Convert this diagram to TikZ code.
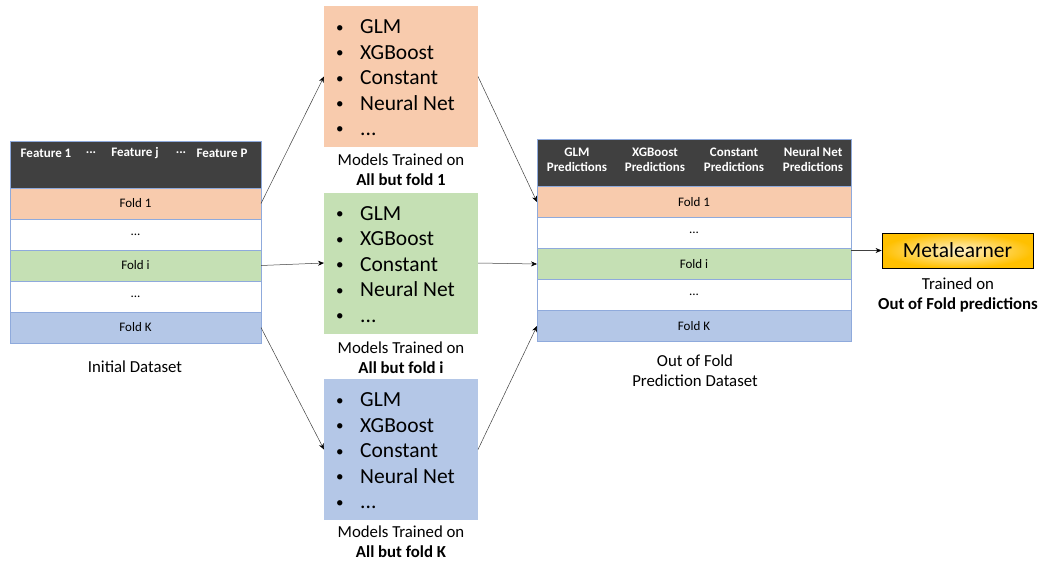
\documentclass[tikz,border=0pt]{standalone}
\usepackage{fontspec}
\usepackage{graphicx}
\setmainfont{Carlito}
\usetikzlibrary{arrows.meta}
\definecolor{foldorange}{HTML}{F8CBAD}
\definecolor{foldgreen}{HTML}{C5E0B4}
\definecolor{foldblue}{HTML}{B4C7E7}
\definecolor{hdrgray}{HTML}{404040}
\definecolor{tableline}{HTML}{8FAADC}
\definecolor{gold}{HTML}{FFC000}
\definecolor{paleyellow}{HTML}{FFF2CC}
\definecolor{arrgray}{HTML}{404040}
\begin{document}
\begin{tikzpicture}[x=1pt,y=-1pt,
  cell/.style={draw=tableline, line width=0.6pt, inner sep=0pt, outer sep=0pt,
    font=\fontsize{13}{15}\selectfont},
  lrow/.style={cell, minimum width=251pt, minimum height=31pt},
  rrow/.style={cell, minimum width=314pt, minimum height=31pt},
  hdr/.style={draw=tableline, line width=0.6pt, fill=hdrgray, inner sep=0pt, outer sep=0pt},
  hdrtext/.style={text=white, font=\fontsize{13}{15}\bfseries\selectfont, align=center, inner sep=0pt},
  modelbox/.style={inner sep=0pt, outer sep=0pt, minimum width=154pt, minimum height=141pt},
  modellist/.style={anchor=base west, inner sep=0pt, font=\fontsize{21.5}{25.5}\selectfont},
  caption/.style={align=center, inner sep=0pt, font=\fontsize{16.8}{20}\selectfont},
  arr/.style={draw=arrgray, line width=0.5pt, -{Stealth[length=6pt,width=5pt,color=black]}}
]
\useasboundingbox (0,0) rectangle (1038,562);

% ---------- initial dataset ----------
\node[hdr, minimum width=251pt, minimum height=47pt] (LH) at (135.5,164.5) {};
\node[hdrtext] at (46,153) {Feature 1};
\node[hdrtext] at (91,153) {...};
\node[hdrtext] at (135,153) {Feature j};
\node[hdrtext] at (181,153) {...};
\node[hdrtext] at (222,153) {Feature P};
\node[lrow, fill=foldorange] (L1) at (135.5,203.5) {Fold 1};
\node[lrow, fill=white]      (L2) at (135.5,234.5) {...};
\node[lrow, fill=foldgreen]  (Li) at (135.5,265.5) {Fold i};
\node[lrow, fill=white]      (L4) at (135.5,296.5) {...};
\node[lrow, fill=foldblue]   (LK) at (135.5,327.5) {Fold K};
\node[caption] (Lcap) at (135,367) {Initial Dataset};

% ---------- model groups ----------
\newcommand{\listdot}{\raisebox{1.5pt}{\scalebox{0.7}{\textbullet}}}
\newcommand{\modelitems}{%
  \begin{tabular}[t]{@{}p{24pt}@{}l@{}}
  \listdot & GLM\\
  \listdot & XGBoost\\
  \listdot & Constant\\
  \listdot & Neural Net\\
  \listdot & ...
  \end{tabular}}

\node[modelbox, fill=foldorange] (M1) at (401,76.5) {};
\node[modellist] (M1t) at (336,33.5) {\modelitems};
\node[caption] (M1c) at (401,170) {Models Trained on\\\textbf{All but fold 1}};

\node[modelbox, fill=foldgreen] (Mi) at (401,263) {};
\node[modellist] (Mit) at (336,220) {\modelitems};
\node[caption] (Mic) at (401,358) {Models Trained on\\\textbf{All but fold i}};

\node[modelbox, fill=foldblue] (MK) at (401,449.5) {};
\node[modellist] (MKt) at (336,406.5) {\modelitems};
\node[caption] (MKc) at (401,542) {Models Trained on\\\textbf{All but fold K}};

% ---------- out of fold prediction dataset ----------
\node[hdr, minimum width=314pt, minimum height=48pt] (RH) at (694,163) {};
\node[hdrtext] at (577,159.5) {GLM\\Predictions};
\node[hdrtext] at (655,159.5) {XGBoost\\Predictions};
\node[hdrtext] at (734,159.5) {Constant\\Predictions};
\node[hdrtext] at (813,159.5) {Neural Net\\Predictions};
\node[rrow, fill=foldorange] (R1) at (694,202) {Fold 1};
\node[rrow, fill=white]      (R2) at (694,233) {...};
\node[rrow, fill=foldgreen]  (Ri) at (694,264) {Fold i};
\node[rrow, fill=white]      (R4) at (694,295) {...};
\node[rrow, fill=foldblue]   (RK) at (694,326) {Fold K};
\node[caption] (Rcap) at (695,371) {Out of Fold\\Prediction Dataset};

% ---------- metalearner ----------
\node[draw=black, line width=0.8pt, inner sep=0pt, minimum width=151pt, minimum height=35pt,
  inner color=paleyellow, outer color=gold, font=\fontsize{21.5}{24}\selectfont]
  (Meta) at (957.5,250.5) {Metalearner};
\node[caption] (Metacap) at (958,294.5) {Trained on\\\textbf{Out of Fold predictions}};

% ---------- connectors ----------
\draw[arr] (L1.east) -- (M1.west);
\draw[arr] (Li.east) -- (Mi.west);
\draw[arr] (LK.east) -- (MK.west);
\draw[arr] (M1.east) -- (R1.west);
\draw[arr] (Mi.east) -- (Ri.west);
\draw[arr] (MK.east) -- (RK.west);
\draw[arr] (Meta.west -| Ri.east) -- (Meta.west);
\end{tikzpicture}
\end{document}
